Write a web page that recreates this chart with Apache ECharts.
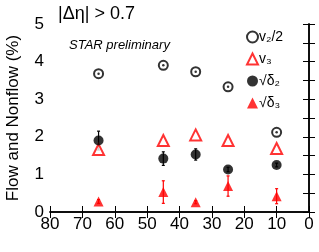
<!DOCTYPE html>
<html>
<head>
<meta charset="utf-8">
<script src="https://cdn.jsdelivr.net/npm/echarts@6/dist/echarts.min.js"></script>
<style>
  html, body { margin: 0; padding: 0; background: #fff; }
  #chart { width: 319px; height: 252px; }
</style>
</head>
<body>
<div id="chart"></div>
<script>
// centrality bins (%)
const cent = [65, 45, 35, 25, 10];
const v2half = [3.68, 3.90, 3.73, 3.33, 2.12];
const v3 = [1.66, 1.90, 2.05, 1.90, 1.69];
const d2 = [1.90, 1.42, 1.53, 1.13, 1.25];
const d2err = [0.25, 0.18, 0.15, 0.06, 0.05];
const d3 = [0.28, 0.53, 0.26, 0.69, 0.42];
const d3err = [0.05, 0.30, 0.04, 0.27, 0.20];

const font = 'Liberation Sans, Arial, sans-serif';
const RED = '#ff0000';

function pts(ys) { return cent.map((c, i) => [c, ys[i]]); }
function errs(ys, es) { return cent.map((c, i) => [c, ys[i] - es[i], ys[i] + es[i]]); }

function errBar(color) {
  return function (params, api) {
    const lo = api.coord([api.value(0), api.value(1)]);
    const hi = api.coord([api.value(0), api.value(2)]);
    const st = { stroke: color, lineWidth: 1.2 };
    return {
      type: 'group',
      children: [
        { type: 'line', shape: { x1: lo[0], y1: lo[1], x2: hi[0], y2: hi[1] }, style: st },
        { type: 'line', shape: { x1: lo[0] - 1.5, y1: lo[1], x2: lo[0] + 1.5, y2: lo[1] }, style: st },
        { type: 'line', shape: { x1: hi[0] - 1.5, y1: hi[1], x2: hi[0] + 1.5, y2: hi[1] }, style: st }
      ]
    };
  };
}

const chart = echarts.init(document.getElementById('chart'));
const axisLine = { show: true, lineStyle: { color: '#000', width: 1.5 } };
chart.setOption({
  animation: false,
  textStyle: { fontFamily: font },
  grid: { left: 50, right: 10, top: 24, bottom: 40, outerBoundsMode: 'none', containLabel: false },
  title: [
    { text: '|Δη| > 0.7', left: 53, top: 0, textStyle: { fontSize: 18, fontWeight: 'normal', color: '#000', fontFamily: font } },
    { text: 'STAR preliminary', left: 64, top: 34, textStyle: { fontSize: 13, fontStyle: 'italic', fontWeight: 'normal', color: '#000', fontFamily: font } }
  ],
  legend: {
    orient: 'vertical', left: 246, top: 30, itemGap: 8, padding: 0,
    itemWidth: 11, itemHeight: 11,
    textStyle: { fontSize: 14, color: '#000', fontFamily: font, padding: [0, 0, 0, -4] },
    data: [
      { name: 'v₂/2', icon: 'emptyCircle' },
      { name: 'v₃', icon: 'emptyTriangle' },
      { name: '√δ₂', icon: 'circle' },
      { name: '√δ₃', icon: 'triangle' }
    ]
  },
  xAxis: [
    {
      type: 'value', min: 0, max: 80, interval: 10, inverse: true,
      name: 'Centrality %', nameLocation: 'start', nameGap: 0,
      nameTextStyle: { fontSize: 17, color: '#000', align: 'right', verticalAlign: 'top', padding: [20, -9, 0, 0] },
      axisLine: axisLine,
      axisTick: { inside: true, length: 6, lineStyle: { color: '#000' } },
      axisLabel: { fontSize: 17, color: '#000', margin: 4 },
      splitLine: { show: false }
    },
    {
      type: 'value', min: 0, max: 80, interval: 10, inverse: true, position: 'top',
      axisLine: axisLine,
      axisTick: { inside: true, length: 6, lineStyle: { color: '#000' } },
      axisLabel: { show: false }, splitLine: { show: false }
    }
  ],
  yAxis: [
    {
      type: 'value', min: 0, max: 5, interval: 1,
      name: 'Flow and Nonflow (%)', nameLocation: 'middle', nameGap: 28,
      nameTextStyle: { fontSize: 17, color: '#000' },
      axisLine: axisLine,
      axisTick: { inside: true, length: 6, lineStyle: { color: '#000' } },
      minorTick: { show: true, splitNumber: 2, length: 6, lineStyle: { color: '#000' } },
      axisLabel: { fontSize: 17, color: '#000', margin: 6 },
      splitLine: { show: false }
    },
    {
      type: 'value', min: 0, max: 5, interval: 1, position: 'right',
      axisLine: axisLine,
      axisTick: { inside: true, length: 6, lineStyle: { color: '#000' } },
      minorTick: { show: true, splitNumber: 2, length: 6, lineStyle: { color: '#000' } },
      axisLabel: { show: false }, splitLine: { show: false }
    }
  ],
  series: [
    { name: 'd2err', type: 'custom', renderItem: errBar('#000'), data: errs(d2, d2err), z: 1 },
    { name: 'd3err', type: 'custom', renderItem: errBar(RED), data: errs(d3, d3err), z: 1 },
    {
      name: 'v₂/2', type: 'scatter', symbol: 'emptyCircle', symbolSize: 9, data: pts(v2half),
      itemStyle: { color: '#000', borderColor: '#000', borderWidth: 1.2 }
    },
    {
      name: 'v2dot', type: 'scatter', symbol: 'circle', symbolSize: 2.5, data: pts(v2half),
      itemStyle: { color: '#000' }
    },
    {
      name: 'v₃', type: 'scatter', symbol: 'emptyTriangle', symbolSize: 11, data: pts(v3),
      itemStyle: { color: RED, borderColor: RED, borderWidth: 1.2 }
    },
    {
      name: '√δ₂', type: 'scatter', symbol: 'circle', symbolSize: 10, data: pts(d2),
      itemStyle: { color: '#000' }, z: 3
    },
    {
      name: '√δ₃', type: 'scatter', symbol: 'triangle', symbolSize: 10, data: pts(d3),
      itemStyle: { color: RED }, z: 3
    }
  ]
});
</script>
</body>
</html>
